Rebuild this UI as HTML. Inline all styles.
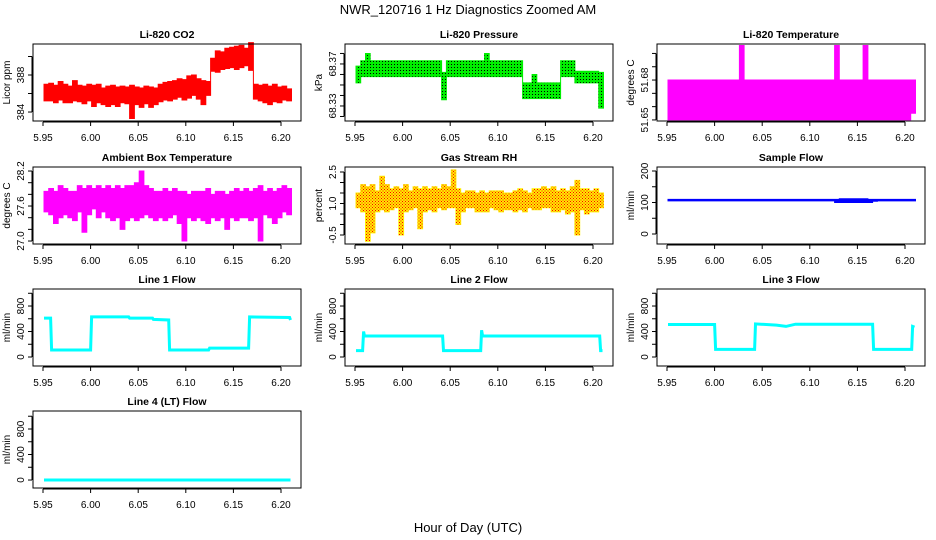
<!DOCTYPE html>
<html><head><meta charset="utf-8">
<style>
html,body{margin:0;padding:0;background:#fff;}
svg{display:block;font-family:"Liberation Sans",sans-serif;}
</style></head>
<body>
<svg id="chart" width="936" height="540" viewBox="0 0 936 540" xmlns="http://www.w3.org/2000/svg">
<defs>
<pattern id="dotsBlack" width="3" height="3" patternUnits="userSpaceOnUse"><rect x="1" y="1" width="1" height="1" fill="#000"/></pattern>
<pattern id="dotsRed" width="3" height="3" patternUnits="userSpaceOnUse"><rect x="0" y="0" width="1" height="1" fill="#f00"/><rect x="1.5" y="1.5" width="1" height="1" fill="#f00"/></pattern>
</defs>
<text x="468" y="14" font-size="13" text-anchor="middle">NWR_120716  1 Hz Diagnostics Zoomed AM</text>
<text x="468" y="532" font-size="13" text-anchor="middle">Hour of Day (UTC)</text>
</svg>
<script>
// ---- data ----
const tStart = 5.951, tStep = 0.005;
const xTicks = [5.95, 6.00, 6.05, 6.10, 6.15, 6.20];
const xTickLabels = ["5.95", "6.00", "6.05", "6.10", "6.15", "6.20"];

const co2Hi = [387.0,387.1,386.9,387.3,387.0,386.8,387.4,386.9,386.8,387.0,386.9,387.0,386.6,386.8,386.9,386.7,386.8,386.7,386.9,386.7,386.6,386.8,386.7,386.6,
  387.0,387.2,387.3,387.4,387.6,387.5,387.9,388.0,387.6,387.4,387.3,
  389.8,390.6,390.5,390.9,391.0,391.1,391.2,390.9,391.5,
  387.0,386.9,387.0,386.8,387.0,386.7,386.8,386.5];
const co2Lo = [385.2,385.2,385.0,385.3,385.0,385.0,385.2,385.1,384.9,385.2,384.6,385.0,384.8,384.6,384.8,384.6,385.0,384.9,383.3,384.8,384.5,384.9,384.5,384.8,
  385.1,385.3,385.2,385.4,385.6,385.3,385.5,385.8,385.4,384.8,385.8,
  388.4,388.3,388.6,388.7,388.8,388.6,388.8,389.0,388.5,
  385.4,385.2,385.0,384.8,385.1,385.0,385.3,385.2];

const presHi = [68.368,68.373,68.380,68.373,68.373,68.373,68.373,68.373,68.373,68.373,68.373,68.373,68.373,68.373,68.373,68.373,68.373,68.373,68.362,68.373,68.373,68.373,68.373,68.373,68.373,68.373,68.373,68.380,68.373,68.373,68.373,68.373,68.373,68.373,68.373,
  68.352,68.352,68.360,68.352,68.352,68.352,68.352,68.352,68.373,68.373,68.373,68.363,68.363,68.363,68.363,68.363,68.362];
const presLo = [68.352,68.358,68.358,68.358,68.358,68.358,68.358,68.358,68.358,68.358,68.358,68.358,68.358,68.358,68.358,68.358,68.358,68.358,68.336,68.358,68.358,68.358,68.358,68.358,68.358,68.358,68.358,68.358,68.358,68.358,68.358,68.358,68.358,68.358,68.358,
  68.337,68.337,68.337,68.337,68.337,68.337,68.337,68.337,68.358,68.358,68.358,68.352,68.352,68.352,68.352,68.352,68.328];

const ltHi = [51.68,51.68,51.68,51.68,51.68,51.68,51.68,51.68,51.68,51.68,51.68,51.68,51.68,51.68,51.68,51.706,51.68,51.68,51.68,51.68,51.68,51.68,51.68,51.68,51.68,51.68,51.68,51.68,51.68,51.68,51.68,51.68,51.68,51.68,51.68,51.706,51.68,51.68,51.68,51.68,51.68,51.706,51.68,51.68,51.68,51.68,51.68,51.68,51.68,51.68,51.68,51.68];
const ltLo = [51.65,51.65,51.65,51.65,51.65,51.65,51.65,51.65,51.65,51.65,51.65,51.65,51.65,51.65,51.65,51.65,51.65,51.65,51.65,51.65,51.65,51.65,51.65,51.65,51.65,51.65,51.65,51.65,51.65,51.65,51.65,51.65,51.65,51.65,51.65,51.65,51.65,51.65,51.65,51.65,51.65,51.65,51.65,51.65,51.65,51.65,51.65,51.65,51.65,51.65,51.65,51.655];

const ambHi = [27.85,27.9,27.85,27.95,27.9,27.85,27.85,27.95,27.9,27.95,27.9,27.95,27.9,27.95,27.9,27.95,27.9,27.95,27.95,28.0,28.2,27.95,27.9,27.85,27.85,27.9,27.85,27.9,27.85,27.85,27.8,27.85,27.85,27.85,27.9,27.8,27.85,27.85,27.8,27.85,27.9,27.85,27.9,27.85,27.9,27.95,27.85,27.9,27.85,27.9,27.95,27.9];
const ambLo = [27.5,27.45,27.3,27.4,27.45,27.4,27.35,27.5,27.15,27.45,27.55,27.4,27.5,27.4,27.35,27.4,27.2,27.35,27.4,27.35,27.4,27.45,27.4,27.35,27.4,27.35,27.4,27.45,27.3,27.0,27.4,27.35,27.4,27.35,27.3,27.4,27.35,27.4,27.2,27.4,27.35,27.4,27.4,27.35,27.4,27.0,27.45,27.4,27.3,27.4,27.5,27.45];

const rhHi = [1.5,1.9,1.8,1.9,1.6,2.3,1.9,1.7,1.8,1.7,1.9,1.6,1.8,1.7,1.8,1.7,1.8,1.7,1.9,1.8,2.6,1.7,1.5,1.6,1.6,1.5,1.6,1.5,1.6,1.6,1.6,1.5,1.5,1.6,1.7,1.6,1.5,1.7,1.7,1.8,1.7,1.8,1.6,1.7,1.6,1.8,2.1,1.7,1.7,1.6,1.7,1.5];
const rhLo = [0.8,0.6,-0.8,-0.4,0.6,0.7,0.6,0.7,0.8,-0.5,0.6,0.7,0.8,-0.2,0.6,0.7,0.6,0.8,0.7,0.8,0.8,0.0,0.6,0.8,0.8,0.6,0.6,0.6,0.8,0.7,0.6,0.7,0.7,0.6,0.7,0.6,0.8,0.7,0.7,0.8,0.8,0.6,0.6,0.7,0.5,0.6,-0.5,0.7,0.5,0.6,0.6,0.8];

const sfHi = [110,110,110,110,110,110,110,110,110,110,110,110,110,110,110,110,110,110,110,110,110,110,110,110,110,110,110,110,110,110,110,110,110,110,110,110,112,112,112,112,112,112,110,110,110,110,110,110,110,110,110,110];
const sfLo = [105,105,105,105,105,105,105,105,105,105,105,105,105,105,105,105,105,105,105,105,105,105,105,105,105,105,105,105,105,105,105,105,105,105,105,100,100,100,100,100,100,100,100,104,105,105,105,105,105,105,105,105];

const l1t = [5.951,5.958,5.959,6.000,6.001,6.040,6.041,6.065,6.066,6.082,6.083,6.124,6.125,6.166,6.167,6.209,6.210];
const l1v = [610,610,110,110,630,630,610,610,590,580,110,110,140,140,630,620,580];
const l2t = [5.951,5.958,5.959,5.960,6.042,6.043,6.082,6.083,6.084,6.207,6.208,6.210];
const l2v = [100,100,400,330,330,100,100,420,330,330,100,100];
const l3t = [5.951,6.000,6.001,6.042,6.043,6.065,6.075,6.085,6.166,6.167,6.207,6.208,6.210];
const l3v = [510,510,120,120,520,500,480,515,515,120,120,480,470];
const l4t = [5.951,6.210];
const l4v = [0,0];

const flowTicks = [0,200,400,600,800,1000];
const flowLabels = ["0","","400","","800",""];

// ---- layout ----
const colX = [33, 345, 657];
const rowY = [44, 167, 289, 411];
const boxW = 268, boxH = 77;
const NS = "http://www.w3.org/2000/svg";
const svg = document.getElementById('chart');

function mk(tag, attrs, parent) {
  const e = document.createElementNS(NS, tag);
  for (const k in attrs) e.setAttribute(k, attrs[k]);
  (parent || svg).appendChild(e);
  return e;
}

const panels = [
  {name:'co2', col:0,row:0,title:'Li-820 CO2',ylab:'Licor ppm',dom:[383.03,391.35],ticks:[384,386,388,390],labels:["384","","388",""],kind:'band',hi:co2Hi,lo:co2Lo,color:'#ff0000'},
  {name:'pressure', col:1,row:0,title:'Li-820 Pressure',ylab:'kPa',dom:[68.3157,68.389],ticks:[68.32,68.33,68.34,68.35,68.36,68.37,68.38],labels:["","68.33","","","","68.37",""],kind:'band',hi:presHi,lo:presLo,color:'#00ee00',pattern:'url(#dotsBlack)'},
  {name:'licor-temp', col:2,row:0,title:'Li-820 Temperature',ylab:'degrees C',dom:[51.6492,51.7071],ticks:[51.65,51.66,51.67,51.68,51.69,51.70],labels:["51.65","","","51.68","",""],kind:'band',hi:ltHi,lo:ltLo,color:'#ff00ff'},
  {name:'ambient-temp', col:0,row:1,title:'Ambient Box Temperature',ylab:'degrees C',dom:[26.949,28.269],ticks:[27.0,27.2,27.4,27.6,27.8,28.0,28.2],labels:["27.0","","","27.6","","","28.2"],kind:'band',hi:ambHi,lo:ambLo,color:'#ff00ff'},
  {name:'gas-rh', col:1,row:1,title:'Gas Stream RH',ylab:'percent',dom:[-0.929,2.738],ticks:[-0.5,0,0.5,1.0,1.5,2.0,2.5],labels:["-0.5","","","1.0","","","2.5"],kind:'band',hi:rhHi,lo:rhLo,color:'#ffee00',pattern:'url(#dotsRed)'},
  {name:'sample-flow', col:2,row:1,title:'Sample Flow',ylab:'ml/min',dom:[-31.7,212.7],ticks:[0,50,100,150,200],labels:["0","","100","","200"],kind:'band',hi:sfHi,lo:sfLo,color:'#0000ff'},
  {name:'line1-flow', col:0,row:2,title:'Line 1 Flow',ylab:'ml/min',dom:[-141,1067],ticks:flowTicks,labels:flowLabels,kind:'step',t:l1t,v:l1v,color:'#00ffff'},
  {name:'line2-flow', col:1,row:2,title:'Line 2 Flow',ylab:'ml/min',dom:[-141,1067],ticks:flowTicks,labels:flowLabels,kind:'step',t:l2t,v:l2v,color:'#00ffff'},
  {name:'line3-flow', col:2,row:2,title:'Line 3 Flow',ylab:'ml/min',dom:[-141,1067],ticks:flowTicks,labels:flowLabels,kind:'step',t:l3t,v:l3v,color:'#00ffff'},
  {name:'line4-flow', col:0,row:3,title:'Line 4 (LT) Flow',ylab:'ml/min',dom:[-125,1082],ticks:flowTicks,labels:flowLabels,kind:'step',t:l4t,v:l4v,color:'#00ffff'}
];

panels.forEach(p => {
  const bx = colX[p.col], by = rowY[p.row];
  const g = mk('g', {});
  
  
  const xs = t => bx + 10 + (t - 5.95) * 952;
  const ys = v => by + boxH - (v - p.dom[0]) / (p.dom[1] - p.dom[0]) * boxH;

  // data
  if (p.kind === 'band') {
    const n = Math.min(p.hi.length, p.lo.length);
    let top = '', bot = '';
    const pts = [];
    for (let i = 0; i < n; i++) {
      const x0 = xs(tStart + i * tStep), x1 = xs(tStart + (i + 1) * tStep);
      pts.push([x0, ys(p.hi[i])], [x1, ys(p.hi[i])]);
    }
    const lows = [];
    for (let i = n - 1; i >= 0; i--) {
      const x0 = xs(tStart + i * tStep), x1 = xs(tStart + (i + 1) * tStep);
      lows.push([x1, ys(p.lo[i])], [x0, ys(p.lo[i])]);
    }
    const d = pts.concat(lows).map(q => q[0].toFixed(1) + ',' + q[1].toFixed(1)).join(' ');
    const poly = mk('polygon', {points: d, fill: p.color, stroke: p.color, 'stroke-width': 1}, g);
    
    
    if (p.pattern) {
      const ov = mk('polygon', {points: d, fill: p.pattern}, g);
      
      
    }
  } else {
    const d = p.t.map((t, i) => xs(t).toFixed(1) + ',' + ys(p.v[i]).toFixed(1)).join(' ');
    const pl = mk('polyline', {points: d, fill: 'none', stroke: p.color, 'stroke-width': 3}, g);
    
    
  }

  // box
  const box = mk('rect', {x: bx, y: by, width: boxW, height: boxH, fill: 'none', stroke: '#000', 'stroke-width': 1}, g);
  
  

  // title
  const tt = mk('text', {x: bx + boxW / 2, y: by - 6, 'font-size': 10.5, 'font-weight': 'bold', 'text-anchor': 'middle'}, g);
  tt.textContent = p.title;
  
  

  // x axis
  const xa = mk('g', {}, g);
  
  
  const yb = by + boxH + 1;
  mk('line', {x1: xs(xTicks[0]), x2: xs(xTicks[xTicks.length - 1]), y1: yb, y2: yb, stroke: '#000'}, xa);
  xTicks.forEach((t, i) => {
    mk('line', {x1: xs(t), x2: xs(t), y1: yb, y2: yb + 4, stroke: '#000'}, xa);
    const lb = mk('text', {x: xs(t), y: yb + 19, 'font-size': 10, 'text-anchor': 'middle'}, xa);
    lb.textContent = xTickLabels[i];
    
    
  });

  // y axis
  const ya = mk('g', {}, g);
  
  
  mk('line', {x1: bx - 1, x2: bx - 1, y1: ys(p.ticks[0]), y2: ys(p.ticks[p.ticks.length - 1]), stroke: '#000'}, ya);
  p.ticks.forEach((v, i) => {
    const y = ys(v);
    mk('line', {x1: bx - 5, x2: bx - 1, y1: y, y2: y, stroke: '#000'}, ya);
    if (p.labels[i]) {
      const lb = mk('text', {x: 0, y: 0, 'font-size': 10, 'text-anchor': 'middle', transform: `translate(${bx - 9},${y}) rotate(-90)`}, ya);
      lb.textContent = p.labels[i];
      
      
    }
  });
  const yl = mk('text', {x: 0, y: 0, 'font-size': 10, 'text-anchor': 'middle', transform: `translate(${bx - 23},${by + boxH / 2}) rotate(-90)`}, g);
  yl.textContent = p.ylab;
  
  
});
</script>
</body></html>
